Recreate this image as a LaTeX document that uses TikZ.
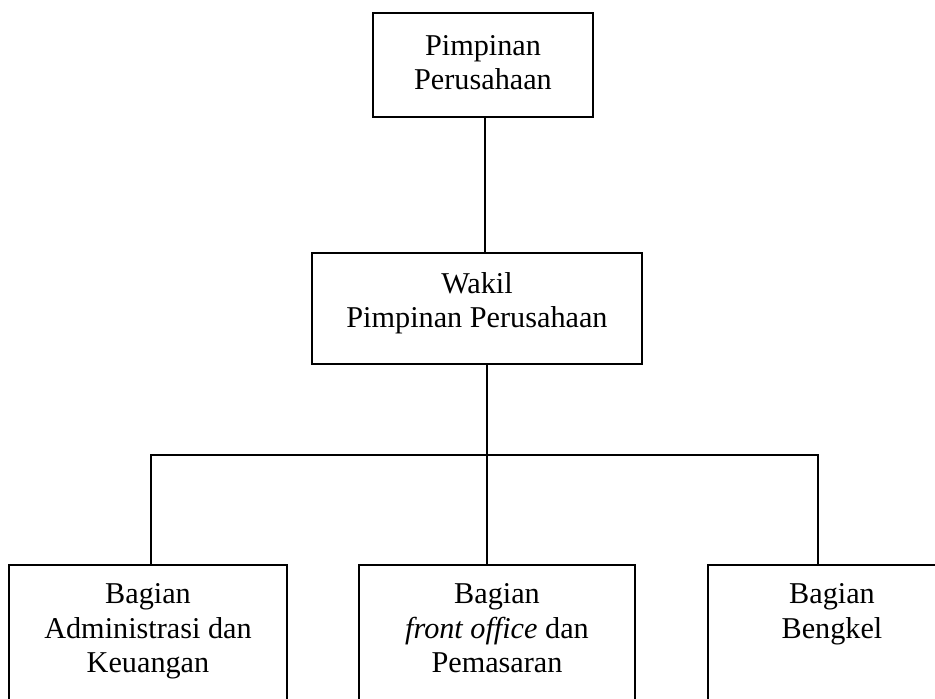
\documentclass[tikz,border=0pt]{standalone}
\usepackage{fontspec}
\setmainfont{Liberation Serif}
\usepackage{tikz}

\begin{document}
\begin{tikzpicture}[
    x=0.025cm, y=-0.025cm,
    every node/.style={font=\fontsize{21.5}{24.5}\selectfont},
    unit/.style={
        rectangle,
        draw,
        line width=1.1pt,
        align=center,
        inner sep=0pt
    },
    division/.style={
        unit,
        anchor=north,
        inner ysep=0.47cm,
        text depth=3cm
    },
    link/.style={
        line width=1.1pt
    }
]

\useasboundingbox (0,0) rectangle (935,698);

% ------------------------------------------------------------------
% PIMPINAN
% ------------------------------------------------------------------

\node[unit, minimum width=5.5cm, minimum height=2.6cm, text depth=0.13cm]
    (pimpinan) at (483,65) {Pimpinan\\Perusahaan};

\node[unit, minimum width=8.25cm, minimum height=2.78cm, text depth=0.42cm]
    (wakil) at (477,308.5) {Wakil\\Pimpinan Perusahaan};

% ------------------------------------------------------------------
% BAGIAN
% ------------------------------------------------------------------

\node[division, minimum width=6.95cm] (admin) at (148,564)
{Bagian\\Administrasi dan\\Keuangan};

\node[division, minimum width=6.9cm] (frontoffice) at (497,564)
{Bagian\\\textit{front office} dan\\Pemasaran};

\node[division, minimum width=6.2cm] (bengkel) at (832,564)
{Bagian\\Bengkel};

% ------------------------------------------------------------------
% CONNECTIONS
% ------------------------------------------------------------------

\coordinate (stem) at (485,0);
\coordinate (junction) at (487,455);
\coordinate (busleft) at (151,455);
\coordinate (busright) at (818,455);

\draw[link] (pimpinan.south -| stem) -- (wakil.north -| stem);
\draw[link] (wakil.south -| junction) -- (frontoffice.north -| junction);
\draw[link] (admin.north -| busleft) -- (busleft) -- (busright)
    -- (bengkel.north -| busright);

\end{tikzpicture}
\end{document}
